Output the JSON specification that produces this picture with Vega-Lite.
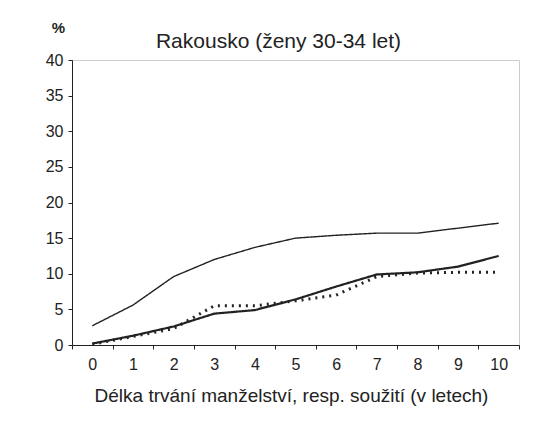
{
  "$schema": "https://vega.github.io/schema/vega-lite/v6.json",
  "width": 447,
  "height": 285,
  "autosize": "none",
  "padding": {"left": 72, "top": 60, "right": 30, "bottom": 78},
  "background": "white",
  "title": {"text": "Rakousko (ženy 30-34 let)", "font": "Liberation Sans", "fontSize": 21, "fontWeight": "normal", "color": "#222", "offset": 0, "dx": -17, "dy": 32},
  "config": {
    "view": {"stroke": "#cccccc", "strokeWidth": 1},
    "axis": {"labelFont": "Liberation Sans", "titleFont": "Liberation Sans", "labelColor": "#222", "titleColor": "#222", "domainColor": "#222", "tickColor": "#222", "grid": false}
  },
  "data": {"values": [
    {"x": 0, "s": "a", "v": 2.7}, {"x": 1, "s": "a", "v": 5.6}, {"x": 2, "s": "a", "v": 9.6}, {"x": 3, "s": "a", "v": 12.0}, {"x": 4, "s": "a", "v": 13.7}, {"x": 5, "s": "a", "v": 15.0}, {"x": 6, "s": "a", "v": 15.4}, {"x": 7, "s": "a", "v": 15.7}, {"x": 8, "s": "a", "v": 15.7}, {"x": 9, "s": "a", "v": 16.4}, {"x": 10, "s": "a", "v": 17.1},
    {"x": 0, "s": "b", "v": 0.2}, {"x": 1, "s": "b", "v": 1.3}, {"x": 2, "s": "b", "v": 2.6}, {"x": 3, "s": "b", "v": 4.4}, {"x": 4, "s": "b", "v": 4.9}, {"x": 5, "s": "b", "v": 6.4}, {"x": 6, "s": "b", "v": 8.2}, {"x": 7, "s": "b", "v": 9.9}, {"x": 8, "s": "b", "v": 10.2}, {"x": 9, "s": "b", "v": 11.0}, {"x": 10, "s": "b", "v": 12.5},
    {"x": 0, "s": "c", "v": 0.1}, {"x": 1, "s": "c", "v": 1.2}, {"x": 2, "s": "c", "v": 2.3}, {"x": 3, "s": "c", "v": 5.5}, {"x": 4, "s": "c", "v": 5.5}, {"x": 5, "s": "c", "v": 6.2}, {"x": 6, "s": "c", "v": 7.0}, {"x": 7, "s": "c", "v": 9.6}, {"x": 8, "s": "c", "v": 10.1}, {"x": 9, "s": "c", "v": 10.2}, {"x": 10, "s": "c", "v": 10.2}
  ]},
  "mark": {"type": "line", "color": "#222"},
  "encoding": {
    "x": {"field": "x", "type": "ordinal", "bandPosition": 0.5,
      "scale": {"type": "band", "paddingInner": 0, "paddingOuter": 0},
      "axis": {"title": "Délka trvání manželství, resp. soužití (v letech)", "labelAngle": 0, "labelFontSize": 16, "titleFontSize": 19, "titleFontWeight": "normal", "tickBand": "extent", "tickSize": 4, "labelPadding": 7, "titlePadding": 14, "titleX": 219}},
    "y": {"field": "v", "type": "quantitative",
      "scale": {"domain": [0, 40], "nice": false},
      "axis": {"values": [0, 5, 10, 15, 20, 25, 30, 35, 40], "labelFontSize": 16, "tickSize": 4, "labelPadding": 5, "title": "%", "titleAngle": 0, "titleFontSize": 15, "titleFontWeight": "bold", "titleX": -14, "titleY": -33, "titleAlign": "center", "titleBaseline": "middle"}},
    "detail": {"field": "s"},
    "strokeWidth": {"field": "s", "scale": {"domain": ["a", "b", "c"], "range": [1.4, 3, 2]}, "legend": null},
    "strokeDash": {"field": "s", "scale": {"domain": ["a", "b", "c"], "range": [[1, 0], [1, 0], [2, 5]]}, "legend": null}
  }
}
